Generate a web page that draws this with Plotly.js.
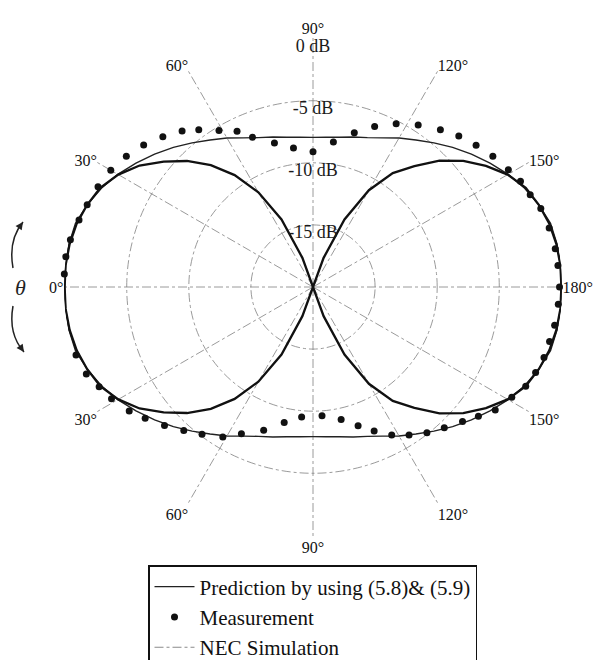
<!DOCTYPE html>
<html>
<head>
<meta charset="utf-8">
<script src="https://cdn.plot.ly/plotly-3.0.1.min.js"></script>
<style>
html,body{margin:0;padding:0;background:#fff;}
#chart{width:600px;height:660px;}
</style>
</head>
<body>
<div id="chart"></div>
<script>
// ---- Data (theta: 0° at left, 90° top, 180° right, 270° bottom; values in dB) ----
const predTheta = [0,5,10,15,20,25,30,35,40,45,50,55,60,65,70,75,80,85,90,95,100,105,110,115,120,125,130,135,140,145,150,155,160,165,170,175,180,
  185,190,195,200,205,210,215,220,225,230,235,240,245,250,255,260,265,270,275,280,285,290,295,300,305,310,315,320,325,330,335,340,345,350,355,360];
const predDb = [0,0,-0.05,-0.2,-0.65,-1.2,-1.85,-2.6,-3.35,-4.1,-4.85,-5.55,-6.15,-6.75,-7.2,-7.5,-7.75,-7.9,-7.95,-7.9,-7.75,-7.5,-7.2,-6.75,-6.15,-5.55,-4.85,-4.1,-3.35,-2.6,-1.85,-1.2,-0.65,-0.2,-0.05,0,0,
  0,-0.05,-0.2,-0.65,-1.2,-1.85,-2.6,-3.35,-4.1,-4.85,-5.55,-6.15,-6.75,-7.2,-7.5,-7.75,-7.9,-7.95,-7.9,-7.75,-7.5,-7.2,-6.75,-6.15,-5.55,-4.85,-4.1,-3.35,-2.6,-1.85,-1.2,-0.65,-0.2,-0.05,0,0];

const lobeTheta = [74,70,65,60,55,50,45,40,35,30,25,20,15,10,5,0,355,350,345,340,335,330,325,320,315,310,305,300,295,290,286,
  254,250,245,240,235,230,225,220,215,210,205,200,195,190,185,180,175,170,165,160,155,150,145,140,135,130,125,120,115,110,106];
const lobeDb = [-20,-17.5,-14,-11.2,-9,-7.2,-5.65,-4.3,-2.95,-1.9,-1.1,-0.65,-0.3,-0.1,0,0,0,-0.1,-0.3,-0.65,-1.1,-1.9,-2.95,-4.3,-5.65,-7.2,-9,-11.2,-14,-17.5,-20,
  -20,-17.5,-14,-11,-8.8,-7.3,-5.6,-4.2,-3.0,-1.9,-1.1,-0.65,-0.3,-0.1,0,0,0,-0.1,-0.3,-0.65,-1.1,-1.9,-3.0,-4.2,-5.6,-7.3,-8.8,-11,-14,-17.5,-20];

const measTheta = [3,7,11,16,20,25,30,35,40,45,50,54,59,64,68,75,82,90,98,105,111,117,123,129,134,139,144,149,153,157,161,166,171,175,180,
  184,189,193,197,201,205,209,214,218,222,227,232,237,242,247,252,258,266,275,282,289,296,301,307,312,317,322,326,331,335,339,344,349,353,359];
const measDb = [0.05,0.05,-0.1,-0.4,-0.65,-0.9,-1.2,-1.65,-2.2,-2.9,-3.6,-4.35,-5.3,-6.05,-7.0,-8.0,-8.7,-9.1,-8.2,-7.15,-6.15,-5.25,-4.45,-3.7,-3.1,-2.6,-2.1,-1.65,-1.25,-1.0,-0.6,-0.4,-0.25,-0.2,-0.15,
  -0.2,-0.3,-0.45,-0.55,-0.8,-1.1,-1.7,-2.3,-3.1,-3.8,-4.5,-5.1,-5.8,-6.5,-7.4,-8.25,-9.1,-9.6,-9.5,-8.85,-7.8,-6.85,-5.9,-5.15,-4.45,-3.65,-2.85,-2.15,-1.45,-1.0,-0.45,-0.15,0.1,0.1,0.15];

// NEC simulation: no separate curve can be read in the picture (legend entry only)
const necTheta = [null];
const necDb = [null];

const angleTickVals = [0,30,60,90,120,150,180,210,240,270,300,330];
const angleTickText = ['0°','30°','60°','90°','120°','150°','180°','150°','120°','90°','60°','30°'];
const ringVals = [0,-5,-10,-15];
const ringText = ['0 dB','-5 dB','-10 dB','-15 dB'];
const ringTheta = [90,90,90,90];

// ---- Layout helpers ----
const M = {l:64, r:38, t:38, b:124, autoexpand:false};
const PW = 600 - M.l - M.r, PH = 660 - M.t - M.b;
const px = x => (x - M.l) / PW;
const py = y => (660 - M.b - y) / PH;
const SERIF = 'Liberation Serif, Times New Roman, serif';

const traces = [
  {type:'scatterpolar', mode:'lines', name:'Prediction by using (5.8)& (5.9)',
   theta:predTheta, r:predDb, line:{color:'#222', width:1.4}, cliponaxis:false},
  {type:'scatterpolar', mode:'markers', name:'Measurement',
   theta:measTheta, r:measDb, marker:{color:'#111', size:7}, cliponaxis:false},
  {type:'scatterpolar', mode:'lines', name:'NEC Simulation',
   theta:necTheta, r:necDb, line:{color:'#8a8a8a', width:1, dash:'dashdot'}},
  {type:'scatterpolar', mode:'lines', showlegend:false,
   theta:lobeTheta, r:lobeDb, line:{color:'#111', width:2.3}, cliponaxis:false},
  {type:'scatterpolar', mode:'text', showlegend:false, hoverinfo:'skip',
   theta:ringTheta, r:ringVals, text:ringText, textposition:'bottom center',
   textfont:{family:SERIF, size:18, color:'#1a1a1a'}, cliponaxis:false}
];

const layout = {
  width:600, height:660,
  margin:M,
  paper_bgcolor:'#fff',
  showlegend:true,
  polar:{
    domain:{x:[0,1], y:[0,1]},
    bgcolor:'rgba(0,0,0,0)',
    radialaxis:{range:[-20,0.05], tickmode:'array', tickvals:[-15,-10,-5,0],
      showticklabels:false, ticks:'', showline:false,
      gridcolor:'#808080', griddash:'dashdot', gridwidth:0.8},
    angularaxis:{rotation:180, direction:'clockwise', tickmode:'array',
      tickvals:angleTickVals, ticktext:angleTickText, ticks:'', showline:false,
      gridcolor:'#808080', griddash:'dashdot', gridwidth:0.8,
      tickfont:{family:SERIF, size:16, color:'#111'}}
  },
  legend:{x:px(148), y:py(565), xanchor:'left', yanchor:'top',
    bordercolor:'#111', borderwidth:1.5, bgcolor:'#fff',
    font:{family:SERIF, size:21, color:'#111'}, itemwidth:40, tracegroupgap:0},
  shapes:[
    {type:'path', xref:'paper', yref:'paper',
     path:`M ${px(13)},${py(268)} Q ${px(8)},${py(240)} ${px(23)},${py(222)}`,
     line:{color:'#222', width:1.5}},
    {type:'path', xref:'paper', yref:'paper',
     path:`M ${px(13)},${py(306)} Q ${px(8)},${py(334)} ${px(24)},${py(352)}`,
     line:{color:'#222', width:1.5}}
  ],
  annotations:[
    {xref:'paper', yref:'paper', x:px(13), y:py(287), text:'<i>θ</i>', showarrow:false,
     font:{family:SERIF, size:22, color:'#222'}},
    {xref:'paper', yref:'paper', x:px(23), y:py(222), text:'', showarrow:true,
     arrowhead:2, arrowsize:1, arrowwidth:1.5, arrowcolor:'#222', ax:-5, ay:7},
    {xref:'paper', yref:'paper', x:px(24), y:py(352), text:'', showarrow:true,
     arrowhead:2, arrowsize:1, arrowwidth:1.5, arrowcolor:'#222', ax:-5, ay:-7}
  ]
};

Plotly.newPlot('chart', traces, layout, {displayModeBar:false, staticPlot:true});
</script>
</body>
</html>
